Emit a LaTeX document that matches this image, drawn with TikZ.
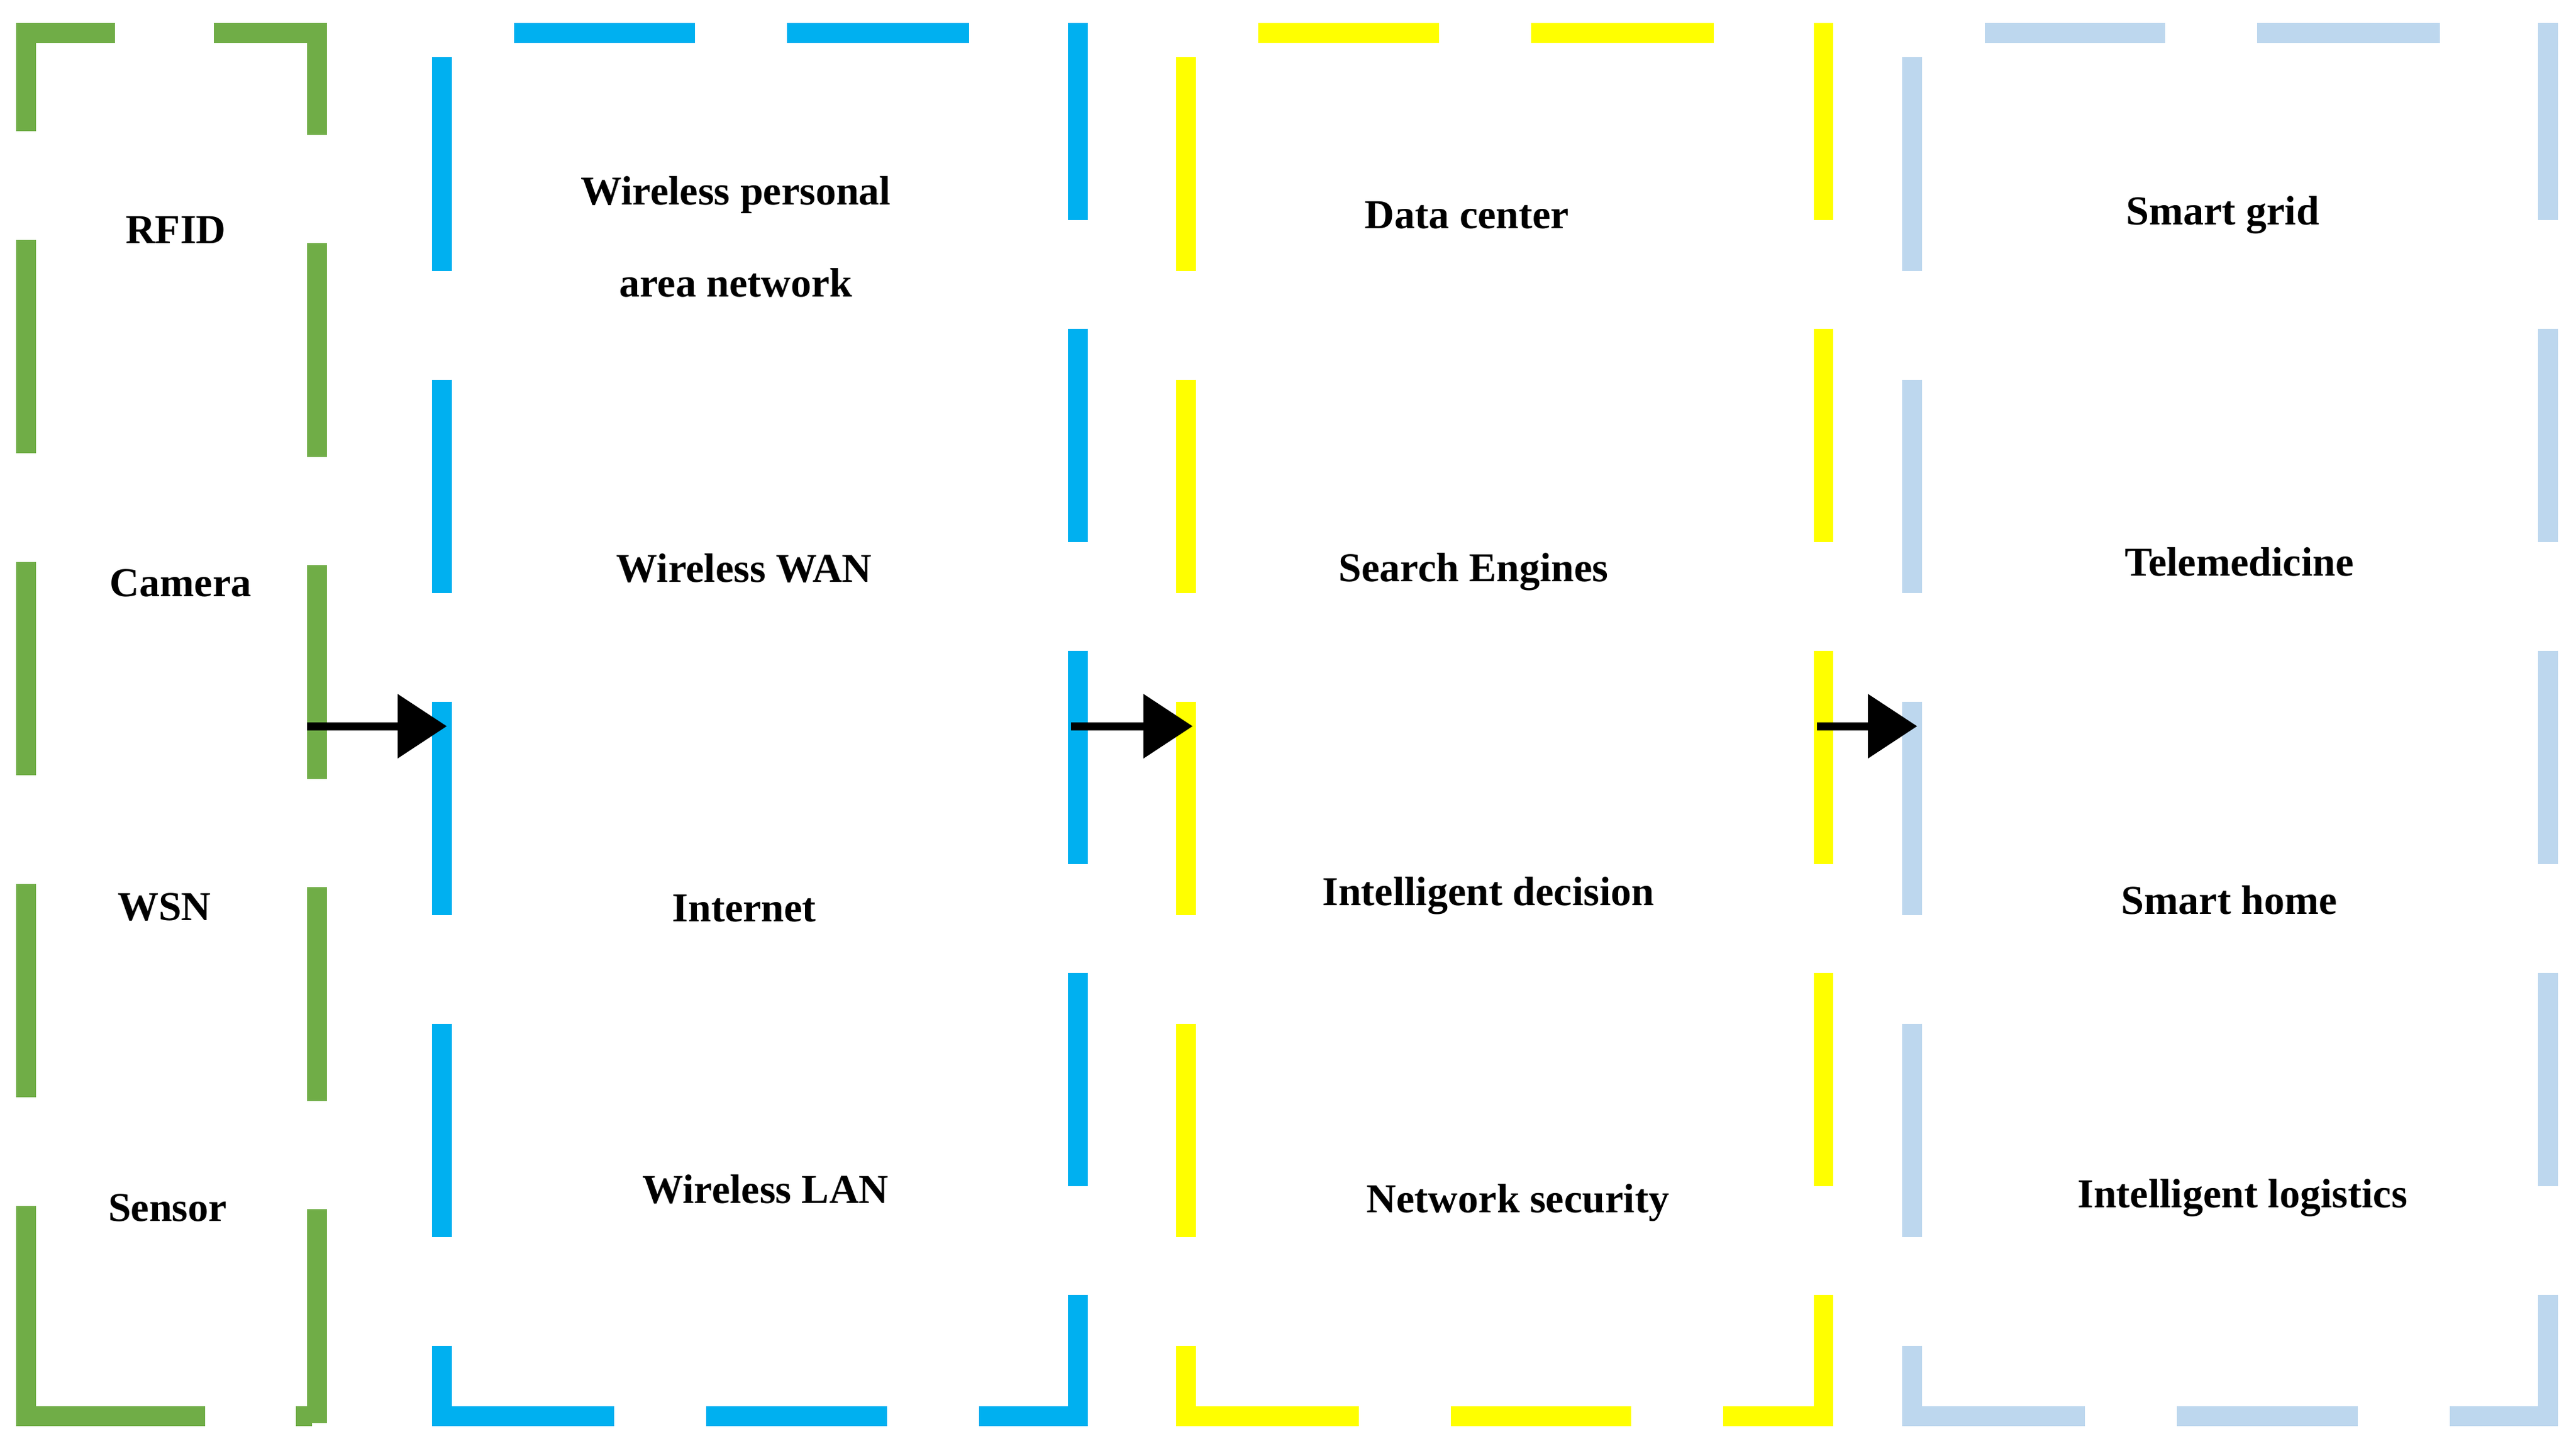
\documentclass[tikz,border=0pt]{standalone}
\usepackage{fontspec}
\setmainfont{Liberation Serif}
\usetikzlibrary{arrows.meta}
\definecolor{cg}{RGB}{112,173,71}
\definecolor{cb}{RGB}{0,176,240}
\definecolor{cy}{RGB}{255,255,0}
\definecolor{cl}{RGB}{189,215,238}
\begin{document}
\begin{tikzpicture}[x=1pt,y=-1pt,
  side/.style={line width=12pt,dash pattern=on 130pt off 66pt},
  lbl/.style={font=\fontsize{25}{56}\selectfont\bfseries,align=center},
  arr/.style={line width=5pt,-{Triangle[length=30pt,width=38pt]}}]
\useasboundingbox[fill=white] (0,0) rectangle (1568,883);
\foreach \c/\a/\b in {cb/269/656, cy/722/1110, cl/1164/1551}{
  \draw[side,\c,dash phase=181pt] (\a,20) -- (\a,862);
  \draw[side,\c,dash pattern=on 120pt off 66pt on 130pt off 66pt on 130pt off 66pt on 130pt off 66pt on 130pt off 66pt] (\b,14) -- (\b,862);
  \draw[side,\c,dash pattern=on 0pt off 44pt on 110pt off 56pt on 111pt off 300pt] (\a,20) -- (\b,20);
  \draw[side,\c,dash pattern=on 111pt off 56pt on 110pt off 56pt on 110pt off 60pt] (\a-6,862) -- (\b+6,862);
}
\draw[side,cg,dash phase=70pt] (16,20) -- (16,862);
\draw[side,cg,dash phase=68pt] (193,20) -- (193,868);
\draw[side,cg,dash pattern=on 60pt off 60pt on 110pt off 60pt] (10,20) -- (199,20);
\draw[side,cg,dash pattern=on 115pt off 55pt on 110pt off 55pt] (10,862) -- (190,862);
\node[lbl] (n1) at (107,140) {RFID};
\node[lbl] (n2) at (110,355) {Camera};
\node[lbl] (n3) at (100,552) {WSN};
\node[lbl] (n4) at (102,735) {Sensor};
\node[lbl] (m1) at (448,144) {Wireless personal\\area network};
\node[lbl] (m2) at (453,346) {Wireless WAN};
\node[lbl] (m3) at (453,553) {Internet};
\node[lbl] (m4) at (466,724) {Wireless LAN};
\node[lbl] (d1) at (893,131) {Data center};
\node[lbl] (d2) at (897,348) {Search Engines};
\node[lbl] (d3) at (906,545) {Intelligent decision};
\node[lbl] (d4) at (924,732) {Network security};
\node[lbl] (s1) at (1353,131) {Smart grid};
\node[lbl] (s2) at (1363,342) {Telemedicine};
\node[lbl] (s3) at (1357,548) {Smart home};
\node[lbl] (s4) at (1365,729) {Intelligent logistics};
\coordinate (a1) at (187,442); \coordinate (b1) at (272,442);
\coordinate (a2) at (652,442); \coordinate (b2) at (726,442);
\coordinate (a3) at (1106,442); \coordinate (b3) at (1167,442);
\draw[arr] (a1) -- (b1);
\draw[arr] (a2) -- (b2);
\draw[arr] (a3) -- (b3);
\end{tikzpicture}
\end{document}
